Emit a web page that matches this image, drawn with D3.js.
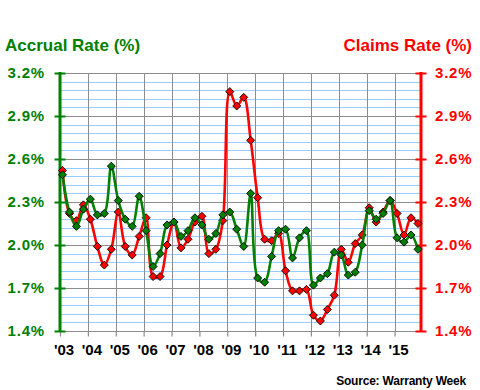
<!DOCTYPE html>
<html>
<head>
<meta charset="utf-8">
<script src="https://cdn.jsdelivr.net/npm/d3@7/dist/d3.min.js"></script>
<style>
  html, body { margin: 0; padding: 0; background: #fff; }
  svg { display: block; font-family: "Liberation Sans", Arial, sans-serif; }
</style>
</head>
<body>
<svg id="chart" width="480" height="390"></svg>
<script>
// ---- data ----
const years = [2003, 2004, 2005, 2006, 2007, 2008, 2009, 2010, 2011, 2012, 2013, 2014, 2015];
const yearLabels = ["'03", "'04", "'05", "'06", "'07", "'08", "'09", "'10", "'11", "'12", "'13", "'14", "'15"];
const quarters = years.flatMap(y => [1, 2, 3, 4].map(q => y + "Q" + q));
const accrualRate = [
  2.49, 2.23, 2.13, 2.25, 2.32, 2.21, 2.22, 2.55,
  2.31, 2.18, 2.13, 2.34, 2.10, 1.85, 1.94, 2.14,
  2.16, 2.06, 2.10, 2.19, 2.14, 2.04, 2.08, 2.21,
  2.23, 2.11, 1.99, 2.36, 1.77, 1.74, 1.92, 2.10,
  2.11, 1.91, 2.05, 2.10, 1.72, 1.77, 1.80, 1.95,
  1.93, 1.79, 1.81, 2.00, 2.24, 2.18, 2.22, 2.31,
  2.05, 2.02, 2.07, 1.97
];
const claimsRate = [
  2.52, 2.22, 2.17, 2.28, 2.18, 1.99, 1.86, 1.97,
  2.23, 1.99, 1.93, 2.06, 2.19, 1.78, 1.78, 2.00,
  2.16, 1.98, 2.04, 2.16, 2.20, 1.94, 1.97, 2.17,
  3.07, 2.97, 3.03, 2.73, 2.33, 2.04, 2.03, 2.08,
  1.82, 1.68, 1.68, 1.69, 1.51, 1.47, 1.55, 1.65,
  1.97, 1.88, 2.01, 2.07, 2.26, 2.16, 2.23, 2.31,
  2.22, 2.07, 2.19, 2.15
];
const rateTicks = [1.4, 1.7, 2.0, 2.3, 2.6, 2.9, 3.2];

// ---- layout ----
const svg = d3.select("#chart");
const pLeft = 60, pRight = 421, pTop = 73, pBottom = 331;
const green = "#008000", red = "#ff0000";

const x = d3.scaleLinear().domain([2003, 2016]).range([pLeft, pLeft + 13 * 27.88]);
const qx = i => x(2003.09 + i / 4);
const yL = d3.scaleLinear().domain([1.4, 3.2]).range([pBottom, pTop]);
const yR = d3.scaleLinear().domain([1.4, 3.2]).range([pBottom, pTop]);

// minor grid (light blue)
const minor = d3.range(1.4, 3.2 + 1e-9, 0.06);
svg.append("g").selectAll("line").data(minor).join("line")
  .attr("x1", pLeft).attr("x2", pRight)
  .attr("y1", d => Math.round(yL(d)) + 0.5).attr("y2", d => Math.round(yL(d)) + 0.5)
  .attr("stroke", "#99ccff").attr("stroke-width", 1);

// major horizontal grid (grey)
svg.append("g").selectAll("line").data(rateTicks).join("line")
  .attr("x1", pLeft).attr("x2", pRight)
  .attr("y1", d => Math.round(yL(d)) + 0.5).attr("y2", d => Math.round(yL(d)) + 0.5)
  .attr("stroke", "#8c8c8c").attr("stroke-width", 1);

// vertical grid at years
svg.append("g").selectAll("line").data(years.slice(1)).join("line")
  .attr("x1", d => Math.round(x(d)) + 0.5).attr("x2", d => Math.round(x(d)) + 0.5)
  .attr("y1", pTop).attr("y2", pBottom)
  .attr("stroke", "#8c8c8c").attr("stroke-width", 1);

// x axis
const xAxis = svg.append("g")
  .attr("transform", `translate(0,${Math.round(pBottom) + 0.5})`)
  .call(d3.axisBottom(x).tickValues(years).tickSize(5).tickSizeOuter(0)
    .tickFormat((d, i) => yearLabels[i]));
xAxis.select(".domain").attr("stroke", "#8c8c8c").attr("d", `M${pLeft},0H${pRight}`);
xAxis.selectAll(".tick line").attr("stroke", "#8c8c8c").attr("stroke-width", 1.2);
xAxis.selectAll(".tick text")
  .attr("fill", "#000").attr("font-size", 15).attr("font-weight", "bold")
  .attr("dx", 3.5).attr("dy", 0).attr("y", 23)
  .attr("font-family", "'Liberation Sans', Arial, sans-serif");

// left axis (green)
const gL = svg.append("g").attr("transform", `translate(${pLeft},0)`)
  .call(d3.axisLeft(yL).tickValues(rateTicks).tickSize(0).tickFormat(d => d.toFixed(1) + "%"));
gL.select(".domain").remove();
gL.selectAll(".tick text")
  .attr("x", -15).attr("fill", green).attr("font-size", 15).attr("font-weight", "bold")
  .attr("letter-spacing", 0.8)
  .attr("font-family", "'Liberation Sans', Arial, sans-serif");
gL.selectAll(".tick").append("line")
  .attr("x1", -5.5).attr("x2", 5.5).attr("stroke", green).attr("stroke-width", 2);
gL.append("line").attr("x1", 0).attr("x2", 0).attr("y1", pTop - 1).attr("y2", pBottom + 1)
  .attr("stroke", green).attr("stroke-width", 3);

// right axis (red)
const gR = svg.append("g").attr("transform", `translate(${pRight},0)`)
  .call(d3.axisRight(yR).tickValues(rateTicks).tickSize(0).tickFormat(d => d.toFixed(1) + "%"));
gR.select(".domain").remove();
gR.selectAll(".tick text")
  .attr("x", 14).attr("fill", red).attr("font-size", 15).attr("font-weight", "bold")
  .attr("letter-spacing", 0.8)
  .attr("font-family", "'Liberation Sans', Arial, sans-serif");
gR.selectAll(".tick").append("line")
  .attr("x1", -5.5).attr("x2", 5.5).attr("stroke", red).attr("stroke-width", 2);
gR.append("line").attr("x1", 0).attr("x2", 0).attr("y1", pTop - 1).attr("y2", pBottom + 1)
  .attr("stroke", red).attr("stroke-width", 3);

// series
const diamond = "M0,-4L4,0L0,4L-4,0Z";
function drawSeries(values, yScale, color) {
  const line = d3.line().x((d, i) => qx(i)).y(d => yScale(d)).curve(d3.curveCatmullRom.alpha(0.5));
  svg.append("path").datum(values).attr("d", line)
    .attr("fill", "none").attr("stroke", color).attr("stroke-width", 2.6)
    .attr("stroke-linejoin", "round");
  svg.append("g").selectAll("path").data(values).join("path")
    .attr("d", diamond)
    .attr("transform", (d, i) => `translate(${qx(i)},${yScale(d)})`)
    .attr("fill", color).attr("stroke", "#000").attr("stroke-width", 0.9);
}
drawSeries(claimsRate, yR, red);
drawSeries(accrualRate, yL, green);

// titles
svg.append("text").attr("x", 5).attr("y", 51)
  .attr("fill", green).attr("font-size", 17).attr("font-weight", "bold")
  .text("Accrual Rate (%)");
svg.append("text").attr("x", 472).attr("y", 51).attr("text-anchor", "end")
  .attr("fill", red).attr("font-size", 17).attr("font-weight", "bold")
  .text("Claims Rate (%)");
svg.append("text").attr("x", 466).attr("y", 385).attr("text-anchor", "end")
  .attr("fill", "#000").attr("font-size", 12).attr("font-weight", "bold")
  .attr("letter-spacing", -0.2)
  .text("Source: Warranty Week");
</script>
</body>
</html>
